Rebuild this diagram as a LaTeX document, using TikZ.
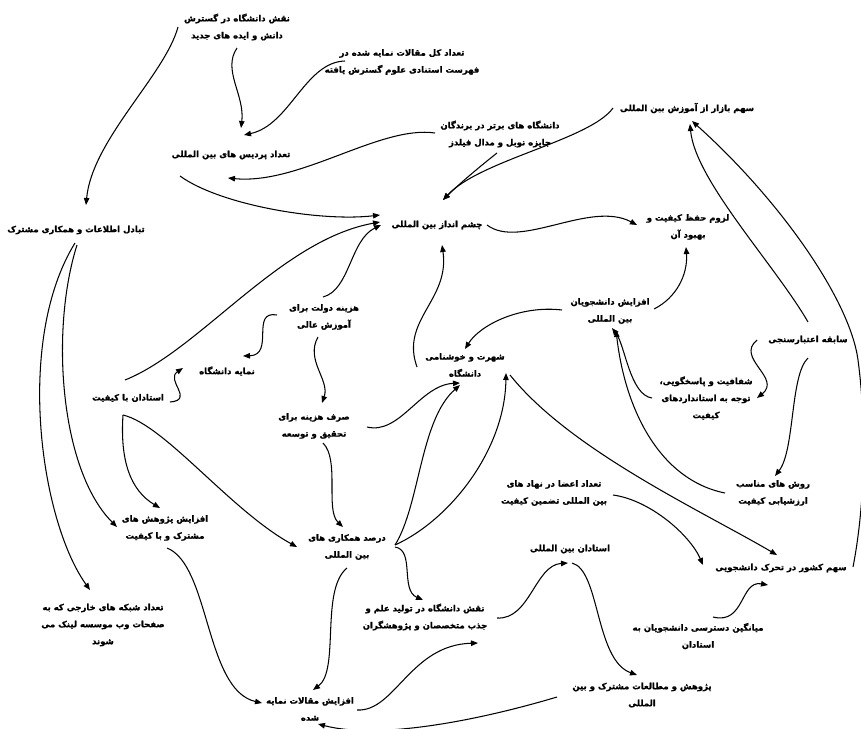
\documentclass[tikz,border=0pt]{standalone}
\usepackage{fontspec}
\usetikzlibrary{arrows.meta}
\newfontfamily\arabicfont[Script=Arabic,FakeBold=1.2]{DejaVu Sans}
\TeXXeTstate=1
\newcommand{\rl}[1]{\beginR#1\endR}
\tikzset{
 lbl/.style={align=center, inner sep=0pt, font=\arabicfont\bfseries\fontsize{8.5}{17}\selectfont},
 arr/.style={line width=1.05pt, -{Triangle[length=7pt,width=5.5pt]}},
}
\begin{document}
\begin{tikzpicture}[x=1pt,y=-1pt]
\useasboundingbox[fill=white] (0,0) rectangle (861,728);
% nodes
\node[lbl] (n1) at (237,27) {\rl{نقش دانشگاه در گسترش}\\\rl{دانش و ایده های جدید}};
\node[lbl] (n2) at (402,62) {\rl{تعداد کل مقالات نمایه شده در}\\\rl{فهرست استنادی علوم گسترش یافته}};
\node[lbl] (n3) at (231,155) {\rl{تعداد پردیس های بین المللی}};
\node[lbl] (n4) at (500,134) {\rl{دانشگاه های برتر در برندگان}\\\rl{جایزه نوبل و مدال فیلدز}};
\node[lbl] (n5) at (687,108) {\rl{سهم بازار از آموزش بین المللی}};
\node[lbl] (n6) at (437,225) {\rl{چشم انداز بین المللی}};
\node[lbl] (n7) at (688,227) {\rl{لزوم حفظ کیفیت و}\\\rl{بهبود آن}};
\node[lbl] (n8) at (76,230) {\rl{تبادل اطلاعات و همکاری مشترک}};
\node[lbl] (n9) at (324,317) {\rl{هزینه دولت برای}\\\rl{آموزش عالی}};
\node[lbl] (n10) at (610,311) {\rl{افزایش دانشجویان}\\\rl{بین المللی}};
\node[lbl] (n11) at (808,340) {\rl{سابقه اعتبارسنجی}};
\node[lbl] (n12) at (227,371) {\rl{نمایه دانشگاه}};
\node[lbl] (n13) at (128,398) {\rl{استادان با کیفیت}};
\node[lbl] (n14) at (465,365) {\rl{شهرت و خوشنامی}\\\rl{دانشگاه}};
\node[lbl] (n15) at (706,398) {\rl{شفافیت و پاسخگویی،}\\\rl{توجه به استانداردهای}\\\rl{کیفیت}};
\node[lbl] (n16) at (314,426) {\rl{صرف هزینه برای}\\\rl{تحقیق و توسعه}};
\node[lbl] (n17) at (773,493) {\rl{روش های مناسب}\\\rl{ارزشیابی کیفیت}};
\node[lbl] (n18) at (554,493) {\rl{تعداد اعضا در نهاد های}\\\rl{بین المللی تضمین کیفیت}};
\node[lbl] (n19) at (165,528) {\rl{افزایش پژوهش های}\\\rl{مشترک و با کیفیت}};
\node[lbl] (n20) at (347,547) {\rl{درصد همکاری های}\\\rl{بین المللی}};
\node[lbl] (n21) at (570,549) {\rl{استادان بین المللی}};
\node[lbl] (n22) at (781,568) {\rl{سهم کشور در تحرک دانشجویی}};
\node[lbl] (n23) at (103,625) {\rl{تعداد شبکه های خارجی که به}\\\rl{صفحات وب موسسه لینک می}\\\rl{شوند}};
\node[lbl] (n24) at (425,617) {\rl{نقش دانشگاه در تولید علم و}\\\rl{جذب متخصصان و پژوهشگران}};
\node[lbl] (n25) at (698,636) {\rl{میانگین دسترسی دانشجویان به}\\\rl{استادان}};
\node[lbl] (n26) at (642,695) {\rl{پژوهش و مطالعات مشترک و بین}\\\rl{المللی}};
\node[lbl] (n27) at (310,709) {\rl{افزایش مقالات نمایه}\\\rl{شده}};
% connectors
\draw[arr] ([shift={(-59,0)}]n1.center) .. controls (165,75) and (92,140) .. ([shift={(10,-25)}]n8.center);
\draw[arr] ([shift={(0,21)}]n1.center) .. controls (222,70) and (245,95) .. ([shift={(10,-27)}]n3.center);
\draw[arr] ([shift={(-57,-1)}]n2.center) .. controls (305,62) and (290,125) .. ([shift={(13,-20)}]n3.center);
\draw[arr] ([shift={(-51,21)}]n3.center) .. controls (220,205) and (320,222) .. ([shift={(-57,-10)}]n6.center);
\draw[arr] ([shift={(-65,-1)}]n4.center) .. controls (380,125) and (300,185) .. ([shift={(-3,23)}]n3.center);
\draw[arr] ([shift={(-3,19)}]n4.center) .. controls (478,168) and (458,185) .. ([shift={(6,-25)}]n6.center);
\draw[arr] ([shift={(-74,0)}]n5.center) .. controls (590,140) and (480,160) .. ([shift={(6,-25)}]n6.center);
\draw[arr] ([shift={(50,0)}]n6.center) .. controls (520,250) and (590,200) .. ([shift={(-51,-2)}]n7.center);
\draw[arr] ([shift={(44,-2)}]n10.center) .. controls (676,298) and (688,275) .. ([shift={(-2,20)}]n7.center);
\draw[arr] ([shift={(0,-18)}]n11.center) .. controls (775,265) and (695,180) .. ([shift={(3,16)}]n5.center);
\draw[arr] ([shift={(72,-1)}]n22.center) .. controls (866,500) and (866,420) .. (858,360) .. controls (850,300) and (780,200) .. ([shift={(5,13)}]n5.center);
\draw[arr] ([shift={(-48,-1)}]n10.center) .. controls (520,305) and (480,325) .. ([shift={(0,-16)}]n14.center);
\draw[arr] ([shift={(-48,2)}]n14.center) .. controls (400,320) and (450,300) .. ([shift={(5,20)}]n6.center);
\draw[arr] ([shift={(-54,0)}]n15.center) .. controls (630,395) and (625,345) .. ([shift={(2,17)}]n10.center);
\draw[arr] ([shift={(-48,0)}]n17.center) .. controls (660,480) and (625,410) .. ([shift={(6,19)}]n10.center);
\draw[arr] ([shift={(-51,0)}]n11.center) .. controls (735,358) and (782,378) .. ([shift={(51,0)}]n15.center);
\draw[arr] ([shift={(0,18)}]n11.center) .. controls (790,375) and (795,450) .. ([shift={(2,-17)}]n17.center);
\draw[arr] ([shift={(45,10)}]n14.center) .. controls (570,450) and (700,510) .. ([shift={(-4,-13)}]n22.center);
\draw[arr] ([shift={(59,2)}]n18.center) .. controls (650,500) and (690,535) .. ([shift={(-78,-3)}]n22.center);
\draw[arr] ([shift={(15,-19)}]n25.center) .. controls (745,625) and (740,580) .. ([shift={(-13,17)}]n22.center);
\draw[arr] ([shift={(-3,-18)}]n13.center) .. controls (200,350) and (280,240) .. ([shift={(-57,-3)}]n6.center);
\draw[arr] ([shift={(-1,-20)}]n9.center) .. controls (350,290) and (350,240) .. ([shift={(-56,0)}]n6.center);
\draw[arr] ([shift={(-47,-2)}]n9.center) .. controls (250,310) and (275,355) .. ([shift={(16,-15)}]n12.center);
\draw[arr] ([shift={(42,4)}]n13.center) .. controls (195,400) and (165,380) .. ([shift={(-44,-3)}]n12.center);
\draw[arr] ([shift={(-6,20)}]n9.center) .. controls (305,360) and (330,380) .. ([shift={(8,-23)}]n16.center);
\draw[arr] ([shift={(53,1)}]n16.center) .. controls (400,435) and (420,385) .. ([shift={(-5,18)}]n14.center);
\draw[arr] ([shift={(9,17)}]n16.center) .. controls (340,460) and (325,510) .. ([shift={(-4,-20)}]n20.center);
\draw[arr] ([shift={(48,-2)}]n20.center) .. controls (420,505) and (420,420) .. ([shift={(-5,20)}]n14.center);
\draw[arr] ([shift={(48,-2)}]n20.center) .. controls (450,520) and (505,450) .. ([shift={(41,8)}]n14.center);
\draw[arr] ([shift={(48,0)}]n20.center) .. controls (415,550) and (400,590) .. ([shift={(-2,-17)}]n24.center);
\draw[arr] ([shift={(0,21)}]n20.center) .. controls (320,590) and (340,670) .. ([shift={(3,-19)}]n27.center);
\draw[arr] ([shift={(47,1)}]n27.center) .. controls (395,712) and (410,645) .. ([shift={(53,26)}]n24.center);
\draw[arr] ([shift={(72,1)}]n24.center) .. controls (530,620) and (535,565) .. ([shift={(-2,14)}]n21.center);
\draw[arr] ([shift={(2,14)}]n21.center) .. controls (600,570) and (595,660) .. ([shift={(-5,-20)}]n26.center);
\draw[arr] ([shift={(-85,2)}]n26.center) .. controls (480,720) and (380,740) .. ([shift={(8,15)}]n27.center);
\draw[arr] ([shift={(2,20)}]n19.center) .. controls (210,565) and (205,690) .. ([shift={(-48,-6)}]n27.center);
\draw[arr] ([shift={(-1,13)}]n8.center) .. controls (15,340) and (40,520) .. ([shift={(-13,-35)}]n23.center);
\draw[arr] ([shift={(1,15)}]n8.center) .. controls (50,330) and (60,470) .. ([shift={(-48,-1)}]n19.center);
\draw[arr] ([shift={(-5,17)}]n13.center) .. controls (120,460) and (130,490) .. ([shift={(-5,-20)}]n19.center);
\draw[arr] ([shift={(-5,17)}]n13.center) .. controls (165,425) and (230,510) .. ([shift={(-50,0)}]n20.center);
\end{tikzpicture}
\end{document}
